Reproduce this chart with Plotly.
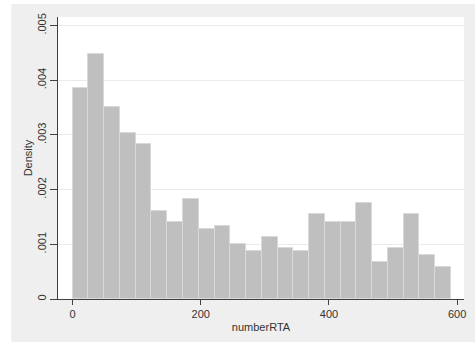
import plotly.graph_objects as go

# Histogram of numberRTA (density scale)
bin_start = 0.0
bin_width = 24.6
density = [0.00385, 0.00447, 0.00351, 0.00304, 0.00284, 0.00160, 0.00141, 0.00182,
           0.00128, 0.00134, 0.00101, 0.00087, 0.00114, 0.00093, 0.00087, 0.00155,
           0.00140, 0.00140, 0.00175, 0.00067, 0.00093, 0.00155, 0.00081, 0.00059]
x_ticks = [0, 200, 400, 600]
x_ticklabels = ["0", "200", "400", "600"]
y_ticks = [0, 0.001, 0.002, 0.003, 0.004, 0.005]
y_ticklabels = ["0", ".001", ".002", ".003", ".004", ".005"]
x_title = "numberRTA"
y_title = "Density"

centers = [bin_start + bin_width * (i + 0.5) for i in range(len(density))]

FONT = "Liberation Sans, Arial, sans-serif"
BG = "#efefef"

fig = go.Figure(go.Bar(
    x=centers, y=density, width=bin_width,
    marker=dict(color="#bfbfbf", line=dict(color="#d9d9d9", width=1)),
    hoverinfo="skip",
))

fig.update_layout(
    width=475, height=343,
    margin=dict(l=58, r=9, t=17, b=44),
    paper_bgcolor=BG, plot_bgcolor="white",
    bargap=0, showlegend=False,
    font=dict(family=FONT, size=11, color="#333333"),
    shapes=[
        dict(type="rect", xref="paper", yref="paper", x0=-0.2, x1=1.1,
             y0=1.0 + 13 / 282, y1=1.2, fillcolor="white", line_width=0, layer="below"),
        dict(type="rect", xref="paper", yref="paper", x0=-0.2, x1=-47 / 408,
             y0=-0.3, y1=1.2, fillcolor="white", line_width=0, layer="below"),
        dict(type="rect", xref="paper", yref="paper", x0=-0.2, x1=1.1,
             y0=-0.3, y1=-43 / 282, fillcolor="white", line_width=0, layer="below"),
    ],
)

fig.update_xaxes(
    range=[-22.8, 610.7], tickmode="array", tickvals=x_ticks, ticktext=x_ticklabels,
    showgrid=False, zeroline=False, showline=True, linecolor="#404040", linewidth=1,
    ticks="outside", ticklen=5, tickcolor="#404040",
    title=dict(text=x_title, standoff=4, font=dict(size=11)),
    tickfont=dict(size=11),
)
fig.update_yaxes(
    range=[0, 0.005155], tickmode="array", tickvals=y_ticks, ticktext=y_ticklabels,
    showgrid=True, gridcolor="#eaeaea", gridwidth=1, zeroline=False,
    showline=True, linecolor="#404040", linewidth=1,
    ticks="outside", ticklen=7, tickcolor="#404040", tickangle=-90,
    title=dict(text=y_title, standoff=0, font=dict(size=11)),
    tickfont=dict(size=11),
)

fig.write_html("out.html")
